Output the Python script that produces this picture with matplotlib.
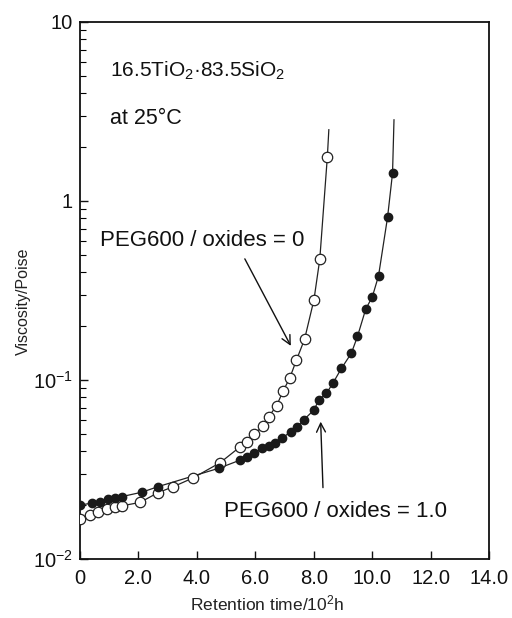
import matplotlib
matplotlib.use("Agg")
import matplotlib.pyplot as plt
from matplotlib.ticker import LogLocator, FixedLocator, NullFormatter

plt.rcParams['font.family'] = ['Liberation Sans', 'DejaVu Sans']
plt.rcParams['mathtext.default'] = 'regular'

# PEG600 / oxides = 0 (open circles)
t_open = [0.0, 0.34, 0.63, 0.92, 1.20, 1.43, 2.06, 2.68, 3.19, 3.88, 4.80, 5.49,
          5.72, 5.97, 6.27, 6.46, 6.73, 6.96, 7.18, 7.41, 7.69, 8.01, 8.21, 8.47]
v_open = [0.0167, 0.0176, 0.0184, 0.0190, 0.0195, 0.0198, 0.0207, 0.0235, 0.0253,
          0.0284, 0.0345, 0.0424, 0.0452, 0.0499, 0.0553, 0.0624, 0.0716, 0.0871,
          0.1022, 0.129, 0.169, 0.280, 0.472, 1.77]
t_open_tail = [8.52]
v_open_tail = [2.5]

# PEG600 / oxides = 1.0 (filled circles)
t_fill = [0.0, 0.40, 0.69, 0.97, 1.20, 1.43, 2.12, 2.69, 4.75, 5.49, 5.72, 5.95,
          6.24, 6.46, 6.69, 6.92, 7.21, 7.44, 7.66, 8.01, 8.18, 8.44, 8.67, 8.95,
          9.29, 9.50, 9.78, 10.01, 10.22, 10.53, 10.70]
v_fill = [0.0200, 0.0205, 0.0209, 0.0216, 0.0218, 0.0223, 0.0236, 0.0254, 0.0321,
          0.0357, 0.0373, 0.0390, 0.0415, 0.0428, 0.0446, 0.0472, 0.0514, 0.0549,
          0.0598, 0.0680, 0.0773, 0.0843, 0.0966, 0.116, 0.141, 0.175, 0.248,
          0.292, 0.381, 0.811, 1.43]
t_fill_tail = [10.75]
v_fill_tail = [2.84]

x_ticks = [0, 2, 4, 6, 8, 10, 12, 14]
x_tick_labels = ['0', '2.0', '4.0', '6.0', '8.0', '10.0', '12.0', '14.0']
y_ticks = [0.01, 0.1, 1, 10]
y_tick_labels = ['$10^{-2}$', '$10^{-1}$', '1', '10']

fig = plt.figure(figsize=(5.12, 6.18), dpi=100)
ax = fig.add_axes([0.156, 0.0955, 0.799, 0.869])

ax.plot(t_open + t_open_tail, v_open + v_open_tail, '-', color='#222222', lw=0.9, zorder=2)
ax.plot(t_open, v_open, 'o', mfc='white', mec='#222222', mew=0.9, ms=7.5, zorder=3)
ax.plot(t_fill + t_fill_tail, v_fill + v_fill_tail, '-', color='#222222', lw=0.9, zorder=2)
ax.plot(t_fill, v_fill, 'o', mfc='#1a1a1a', mec='#1a1a1a', ms=6, zorder=4)

ax.set_yscale('log')
ax.set_xlim(0, 14)
ax.set_ylim(0.01, 10)
ax.xaxis.set_major_locator(FixedLocator(x_ticks))
ax.set_xticklabels(x_tick_labels)
ax.yaxis.set_major_locator(FixedLocator(y_ticks))
ax.set_yticklabels(y_tick_labels)
ax.yaxis.set_minor_locator(LogLocator(base=10, subs=range(2, 10)))
ax.yaxis.set_minor_formatter(NullFormatter())

ax.tick_params(axis='both', which='major', direction='in', length=6, width=1,
               labelsize=14.5, color='#111111', labelcolor='#111111')
ax.tick_params(axis='x', pad=7)
ax.tick_params(axis='y', pad=5)
ax.tick_params(axis='y', which='minor', direction='in', length=4, width=0.8)
for s in ax.spines.values():
    s.set_linewidth(1.3)
    s.set_color('#111111')

ax.set_xlabel('Retention time/$10^2$h', fontsize=12.5, color='#222222', va='center')
ax.xaxis.set_label_coords(0.457, -0.082)
ax.set_ylabel('Viscosity/Poise', fontsize=11.5, color='#222222', va='center')
ax.yaxis.set_label_coords(-0.139, 0.479)

ax.text(1.03, 5.3, '16.5TiO$_2$·83.5SiO$_2$', fontsize=15, va='center', color='#111111')
ax.text(1.03, 2.9, 'at 25°C', fontsize=15.5, va='center', color='#111111')

ax.annotate('PEG600 / oxides = 0', xy=(7.22, 0.155), xytext=(0.68, 0.60),
            fontsize=16, va='center', color='#111111',
            arrowprops=dict(arrowstyle='->', color='#111111', lw=1.0,
                            shrinkA=4, shrinkB=0, relpos=(0.69, 0.0)))
ax.annotate('PEG600 / oxides = 1.0', xy=(8.24, 0.0585), xytext=(4.94, 0.0183),
            fontsize=16, va='center', color='#111111',
            arrowprops=dict(arrowstyle='->', color='#111111', lw=1.0,
                            shrinkA=8, shrinkB=0, relpos=(0.445, 1.0)))

fig.savefig('out.png', dpi=100)
